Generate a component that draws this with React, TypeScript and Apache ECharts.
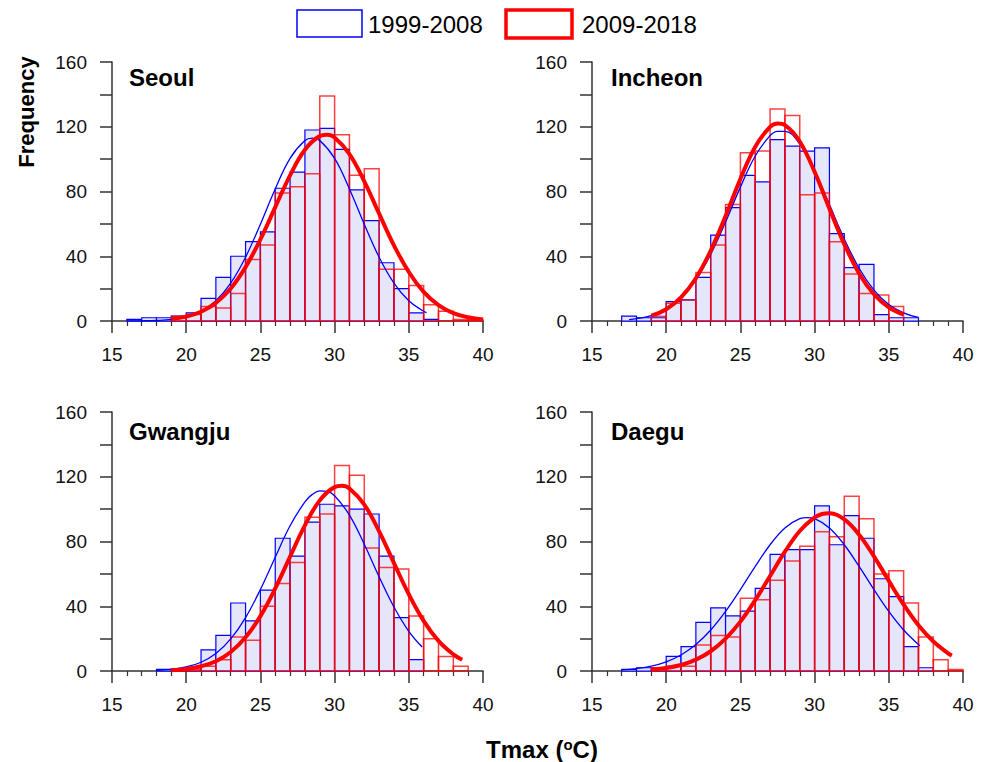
import React, { useEffect, useRef } from "react";
import * as echarts from "echarts";

const FONT = '"Liberation Sans", Arial, Helvetica, sans-serif';

// Histogram bins of width 1, starting at 15 (15-16, 16-17, ..., 39-40)
const BIN_START = 15;
const X_TICKS = [15, 20, 25, 30, 35, 40];
const Y_TICKS = [0, 40, 80, 120, 160];
const LEGEND = ["1999-2008", "2009-2018"];
const STATIONS = ["Seoul", "Incheon", "Gwangju", "Daegu"];

const seoulBlue = [0, 1, 2, 2, 3, 5, 14, 27, 40, 49, 55, 82, 92, 118, 119, 106, 81, 62, 36, 20, 5, 1, 0, 0, 0];
const seoulRed = [0, 0, 0, 0, 3, 4, 9, 8, 17, 38, 47, 79, 83, 91, 139, 115, 90, 94, 32, 32, 22, 10, 6, 1, 1];
const incheonBlue = [0, 0, 3, 2, 2, 12, 13, 27, 53, 70, 90, 86, 112, 108, 105, 107, 54, 33, 35, 4, 2, 2, 0, 0, 0];
const incheonRed = [0, 0, 0, 0, 3, 11, 13, 30, 47, 72, 104, 105, 131, 127, 78, 79, 49, 29, 17, 16, 9, 0, 0, 0, 0];
const gwangjuBlue = [0, 0, 0, 1, 1, 2, 13, 22, 42, 31, 50, 82, 71, 92, 103, 102, 100, 97, 71, 33, 7, 0, 0, 0, 0];
const gwangjuRed = [0, 0, 0, 0, 1, 1, 3, 7, 21, 19, 40, 54, 67, 95, 97, 127, 121, 76, 64, 63, 34, 20, 9, 3, 0];
const daeguBlue = [0, 0, 1, 2, 2, 9, 15, 30, 39, 34, 37, 51, 72, 75, 75, 102, 78, 96, 82, 57, 46, 15, 2, 0, 0];
const daeguRed = [0, 0, 0, 0, 2, 3, 3, 16, 22, 21, 45, 44, 56, 68, 77, 86, 83, 108, 94, 60, 62, 42, 21, 7, 1];

// Fitted curves
const seoulBlueFitX = [16, 17, 18, 19, 20, 21, 22, 23, 24, 25, 26, 27, 28, 28.5, 29, 30, 31, 32, 33, 34, 35, 36, 36.2];
const seoulBlueFitY = [0.03, 0.12, 0.36, 1.0, 2.6, 6.0, 12.5, 23.4, 39.4, 59.8, 81.6, 100.5, 111.5, 113, 111.5, 100.5, 81.6, 59.8, 39.4, 23.4, 12.5, 6.0, 5.2];
const seoulRedFitX = [19, 20, 21, 22, 23, 24, 25, 26, 27, 28, 29, 29.5, 30, 31, 32, 33, 34, 35, 36, 37, 38, 39, 40];
const seoulRedFitY = [1.2, 2.7, 5.7, 11.2, 20.1, 33.3, 50.4, 70.3, 90, 105.8, 114.2, 115, 113.3, 103.1, 86.3, 66.3, 46.7, 30.3, 18, 9.8, 4.9, 2.3, 1.0];

const incheonBlueFitX = [17.5, 18, 19, 20, 21, 22, 23, 24, 25, 26, 27, 27.5, 28, 29, 30, 31, 32, 33, 34, 35, 36, 37];
const incheonBlueFitY = [0.9, 1.4, 3.3, 7.2, 14.1, 25.2, 41.2, 61.1, 82.7, 101.9, 114.5, 117.2, 117.2, 109.3, 92.9, 71.9, 50.7, 32.6, 19.1, 10.2, 5.0, 2.2];
const incheonRedFitX = [19, 20, 21, 22, 23, 24, 25, 26, 27, 27.5, 28, 29, 30, 31, 32, 33, 34, 35, 36];
const incheonRedFitY = [3.3, 7.3, 14.6, 26.4, 43.5, 64.8, 87.7, 107.7, 119.9, 122, 121, 110.9, 92.1, 69.4, 47.5, 29.4, 16.5, 8.4, 3.9];

const gwangjuBlueFitX = [18, 19, 20, 21, 22, 23, 24, 25, 26, 27, 28, 28.5, 29, 29.5, 30, 31, 32, 33, 34, 35, 35.9];
const gwangjuBlueFitY = [0.4, 1.0, 2.5, 5.4, 10.8, 19.8, 33, 50.4, 70.3, 89.7, 104.5, 109.1, 111.3, 111.0, 108.3, 96.3, 78.3, 58.2, 39.5, 24.5, 14.8];
const gwangjuRedFitX = [19, 20, 21, 22, 23, 24, 25, 26, 27, 28, 29, 30, 30.5, 31, 32, 33, 34, 35, 36, 37, 38, 38.6];
const gwangjuRedFitY = [0.5, 1.3, 2.9, 6.0, 11.7, 20.8, 33.9, 51, 70.7, 90, 105.4, 113.6, 114.4, 112.7, 102.8, 86.3, 66.7, 47.4, 31, 18.6, 10.3, 6.9];

const daeguBlueFitX = [17, 18, 19, 20, 21, 22, 23, 24, 25, 26, 27, 28, 29, 29.5, 30, 31, 32, 33, 34, 35, 36, 37, 37.1];
const daeguBlueFitY = [0.7, 1.5, 3.0, 5.7, 9.9, 16.3, 25.3, 36.8, 50.3, 64.6, 78, 88.4, 94.1, 94.8, 94.1, 88.4, 78, 64.6, 50.3, 36.8, 25.3, 16.3, 15.6];
const daeguRedFitX = [19, 20, 21, 22, 23, 24, 25, 26, 27, 28, 29, 30, 30.5, 31, 32, 33, 34, 35, 36, 37, 38, 39, 39.25];
const daeguRedFitY = [0.9, 1.9, 3.7, 7.0, 12.2, 20, 30.5, 43.8, 58.7, 73.7, 86.5, 94.9, 97.0, 97.5, 93.6, 84.2, 70.8, 55.7, 41, 28.2, 18.2, 10.9, 9.6];

const PANELS = [
  { name: STATIONS[0], blue: seoulBlue, red: seoulRed, bfx: seoulBlueFitX, bfy: seoulBlueFitY, rfx: seoulRedFitX, rfy: seoulRedFitY, left: 112, top: 62, tx: 129, ty: 77 },
  { name: STATIONS[1], blue: incheonBlue, red: incheonRed, bfx: incheonBlueFitX, bfy: incheonBlueFitY, rfx: incheonRedFitX, rfy: incheonRedFitY, left: 592, top: 62, tx: 611, ty: 77 },
  { name: STATIONS[2], blue: gwangjuBlue, red: gwangjuRed, bfx: gwangjuBlueFitX, bfy: gwangjuBlueFitY, rfx: gwangjuRedFitX, rfy: gwangjuRedFitY, left: 112, top: 412, tx: 129, ty: 431 },
  { name: STATIONS[3], blue: daeguBlue, red: daeguRed, bfx: daeguBlueFitX, bfy: daeguBlueFitY, rfx: daeguRedFitX, rfy: daeguRedFitY, left: 592, top: 412, tx: 611, ty: 431 },
];

const GRID_W = 371;
const GRID_H = 259;
const AXIS_COLOR = "#333";
const BLUE = "#0000ff";
const RED = "#ff0000";

function binsToData(counts: number[]) {
  const out: number[][] = [];
  counts.forEach((c, i) => {
    if (c > 0) out.push([BIN_START + i, BIN_START + i + 1, c]);
  });
  return out;
}

function zip(xs: number[], ys: number[]) {
  return xs.map((x, i) => [x, ys[i]]);
}

function barSeries(idx: number, data: number[][], fill: string, stroke: string, lw: number) {
  return {
    type: "custom",
    xAxisIndex: idx,
    yAxisIndex: idx,
    data,
    encode: { x: [0, 1], y: 2 },
    silent: true,
    renderItem: (params: any, api: any) => {
      const a = api.coord([api.value(0), 0]);
      const b = api.coord([api.value(1), api.value(2)]);
      return {
        type: "rect",
        shape: { x: a[0], y: b[1], width: b[0] - a[0], height: a[1] - b[1] },
        style: { fill, stroke, lineWidth: lw },
      };
    },
  };
}

export default function App() {
  const ref = useRef<HTMLDivElement>(null);
  useEffect(() => {
    if (!ref.current) return;
    const chart = echarts.init(ref.current, undefined, { renderer: "svg" });

    const grid = PANELS.map((p) => ({
      left: p.left,
      top: p.top,
      width: GRID_W,
      height: GRID_H,
      outerBoundsMode: "none",
    }));

    const xAxis = PANELS.map((p, i) => ({
      type: "value",
      gridIndex: i,
      min: X_TICKS[0],
      max: X_TICKS[X_TICKS.length - 1],
      interval: X_TICKS[1] - X_TICKS[0],
      axisLine: { show: true, onZero: false, lineStyle: { color: AXIS_COLOR, width: 1.5 } },
      axisTick: { show: true, length: 12, lineStyle: { color: AXIS_COLOR, width: 1.5 } },
      minorTick: { show: true, splitNumber: 5, length: 5, lineStyle: { color: AXIS_COLOR, width: 1.2 } },
      splitLine: { show: false },
      minorSplitLine: { show: false },
      axisLabel: { fontSize: 19, color: "#111", margin: 24, fontFamily: FONT },
    }));

    const yAxis = PANELS.map((p, i) => ({
      type: "value",
      gridIndex: i,
      min: Y_TICKS[0],
      max: Y_TICKS[Y_TICKS.length - 1],
      interval: Y_TICKS[1] - Y_TICKS[0],
      axisLine: { show: true, onZero: false, lineStyle: { color: AXIS_COLOR, width: 1.5 } },
      axisTick: { show: true, length: 12, lineStyle: { color: AXIS_COLOR, width: 1.5 } },
      minorTick: { show: true, splitNumber: 2, length: 12, lineStyle: { color: AXIS_COLOR, width: 1.5 } },
      splitLine: { show: false },
      minorSplitLine: { show: false },
      axisLabel: { fontSize: 19, color: "#111", margin: 25, fontFamily: FONT },
    }));

    const series: any[] = [];
    PANELS.forEach((p, i) => {
      series.push(barSeries(i, binsToData(p.blue), "#e6e6fa", BLUE, 1.2));
      series.push(barSeries(i, binsToData(p.red), "none", "rgba(255,0,0,0.75)", 1.5));
      series.push({
        type: "line",
        xAxisIndex: i,
        yAxisIndex: i,
        data: zip(p.bfx, p.bfy),
        smooth: 0.4,
        showSymbol: false,
        silent: true,
        lineStyle: { color: BLUE, width: 1.3 },
      });
      series.push({
        type: "line",
        xAxisIndex: i,
        yAxisIndex: i,
        data: zip(p.rfx, p.rfy),
        smooth: 0.4,
        showSymbol: false,
        silent: true,
        lineStyle: { color: RED, width: 4 },
      });
    });

    const graphic: any[] = [
      { type: "rect", shape: { x: 297, y: 10, width: 65, height: 27 }, style: { fill: "#fff", stroke: BLUE, lineWidth: 1.5 } },
      { type: "text", x: 368, y: 24, style: { text: LEGEND[0], fontSize: 24, fontFamily: FONT, fill: "#000", verticalAlign: "middle", align: "left" } },
      { type: "rect", shape: { x: 506, y: 10, width: 66, height: 28 }, style: { fill: "#fff", stroke: RED, lineWidth: 3.5 } },
      { type: "text", x: 582, y: 24, style: { text: LEGEND[1], fontSize: 24, fontFamily: FONT, fill: "#000", verticalAlign: "middle", align: "left" } },
      {
        type: "text",
        x: 26,
        y: 112,
        rotation: Math.PI / 2,
        style: { text: "Frequency", fontSize: 22, fontWeight: "bold", fontFamily: FONT, fill: "#000", align: "center", verticalAlign: "middle" },
      },
      {
        type: "text",
        x: 542,
        y: 749,
        style: {
          text: "Tmax ({sup|o}C)",
          fontSize: 24,
          fontWeight: "bold",
          fontFamily: FONT,
          fill: "#000",
          align: "center",
          verticalAlign: "middle",
          rich: {
            sup: { fontSize: 15, fontWeight: "bold", fontFamily: FONT, fill: "#000", verticalAlign: "top", lineHeight: 15 },
          },
        },
      },
      ...PANELS.map((p) => ({
        type: "text",
        x: p.tx,
        y: p.ty,
        style: { text: p.name, fontSize: 24, fontWeight: "bold", fontFamily: FONT, fill: "#000", align: "left", verticalAlign: "middle" },
      })),
    ];

    chart.setOption({
      animation: false,
      backgroundColor: "#fff",
      textStyle: { fontFamily: FONT },
      grid,
      xAxis,
      yAxis,
      series,
      graphic,
    });
    return () => chart.dispose();
  }, []);
  return <div ref={ref} style={{ position: "absolute", left: 0, top: 0, width: 982, height: 762 }} />;
}
